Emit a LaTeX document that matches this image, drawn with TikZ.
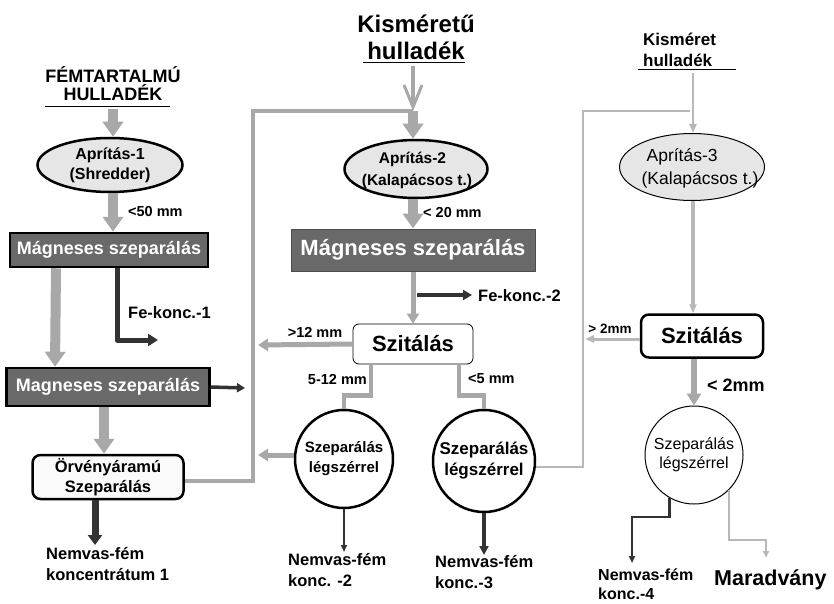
\documentclass[tikz,border=0pt]{standalone}
\usepackage{fontspec}
\setmainfont{Liberation Sans}
\usetikzlibrary{arrows.meta,shapes.geometric,positioning}
\definecolor{szurke}{HTML}{A8A8A8}
\definecolor{vszurke}{HTML}{B8B8B8}
\definecolor{sotet}{HTML}{333333}
\definecolor{doboz}{HTML}{696969}
\definecolor{halvany}{HTML}{E6E6E6}
\newcommand{\betu}[2]{\fontsize{#1pt}{#2pt}\selectfont}
\tikzset{
  vastagnyil/.style={draw=szurke, line width=10pt, -{Triangle[width=20pt,length=15pt]}},
  kozepnyil/.style={draw=szurke, line width=5pt, -{Triangle[width=12pt,length=10pt]}},
  vekonynyil/.style={draw=vszurke, line width=2.5pt, -{Triangle[width=7pt,length=9pt]}},
  vissza/.style={draw=szurke, line width=4.5pt},
  vekonyvissza/.style={draw=vszurke, line width=2pt},
  sotetnyil/.style={draw=sotet, line width=5pt, -{Triangle[width=12pt,length=10pt]}},
  aprito/.style={ellipse, draw, line width=2.5pt, fill=halvany, inner sep=0pt},
  aprszoveg/.style={align=center, inner sep=0pt, font=\bfseries\betu{16}{20}},
  sotetdoboz/.style={draw, line width=2.5pt, fill=doboz, text=white, inner sep=0pt,
    minimum width=198pt, minimum height=34pt, font=\bfseries\betu{18}{20}},
  szitdoboz/.style={draw, rounded corners=6pt, fill=white, inner sep=0pt,
    font=\bfseries\betu{22}{24}},
  legkor/.style={circle, draw, line width=2.5pt, fill=white, inner sep=0pt, align=center},
  felirat/.style={align=left, inner sep=0pt, font=\bfseries\betu{16.5}{21}},
  meret/.style={inner sep=0pt, font=\bfseries\betu{14.5}{16}}
}
\begin{document}
\begin{tikzpicture}[x=1pt, y=-1pt]
\useasboundingbox (0,0) rectangle (834,604);
%%% Bal oszlop
\node[align=center, inner sep=0pt, font=\bfseries\betu{18}{18}] (fem) at (113,84) {FÉMTARTALMÚ\\HULLADÉK};
\draw[line width=1pt] (45,107) -- (170,107);
\node[aprito, minimum width=145pt, minimum height=54pt] (apr1) at (110,165) {};
\node[aprszoveg] at (apr1) {Aprítás-1\\(Shredder)};
\node[sotetdoboz] (mag1) at (109,250) {Mágneses szeparálás};
\node[sotetdoboz, minimum width=203pt, minimum height=38pt] (mag2) at (108,387) {Magneses szeparálás};
\node[draw, line width=2.5pt, rounded corners=8pt, fill=black!2, align=center, inner sep=0pt,
  minimum width=151pt, minimum height=44pt, font=\bfseries\betu{16.5}{20}] (orv) at (108,477) {Örvényáramú\\Szeparálás};
\node[meret, anchor=west] (l50) at (128,212) {<50 mm};
\node[felirat, anchor=west] (fe1) at (128,313) {Fe-konc.-1};
\node[felirat, anchor=west] (nf1) at (46,564) {Nemvas-fém\\koncentrátum 1};
\coordinate (f0) at (113,109);
\coordinate (fe1v) at (158,340);
\coordinate (m2ki) at (245,388);
\coordinate (nf1v) at (95,545);
\coordinate (v1) at (253,111);
\draw[vastagnyil] (f0) -- (f0 |- apr1.north);
\draw[vastagnyil] (apr1.south -| f0) -- (mag1.north -| f0);
\draw[vastagnyil] ([xshift=-53pt]mag1.south) -- ([xshift=-53pt]mag2.north);
\draw[sotetnyil, line join=round] ([xshift=8pt]mag1.south) |- (fe1v);
\draw[draw=sotet, line width=3.5pt, -{Triangle[width=9pt,length=8pt]}] (mag2.east) -- (m2ki);
\draw[vastagnyil] ([xshift=-4pt]mag2.south) -- ([xshift=-4pt]orv.north);
\draw[sotetnyil, line width=7pt, -{Triangle[width=14pt,length=10pt]}] ([xshift=-13pt]orv.south) -- (nf1v);
%%% Kozepso oszlop
\node[align=center, inner sep=0pt, font=\bfseries\betu{24}{27}] (kis) at (416,37) {Kisméretű\\hulladék};
\draw[line width=1pt] (363,63) -- (465,63);
\node[aprito, minimum width=143pt, minimum height=58pt] (apr2) at (416,169) {};
\node[aprszoveg, align=left, font=\bfseries\betu{15.5}{22}] at (417,170) {\hspace*{17pt}Aprítás-2\\(Kalapácsos t.)};
\node[sotetdoboz, line width=1pt, draw=black!70, minimum width=244pt, minimum height=42pt,
  font=\bfseries\betu{22}{24}] (mag3) at (413,250) {Mágneses szeparálás};
\node[szitdoboz, line width=0.8pt, minimum width=120pt, minimum height=40pt] (szit2) at (413,344) {Szitálás};
\node[legkor, minimum size=98pt, font=\bfseries\betu{15}{20}] (c1) at (344,459) {Szeparálás\\légszérrel};
\node[legkor, minimum size=102pt, font=\bfseries\betu{17}{21}] (c2) at (484,461) {Szeparálás\\légszérrel};
\node[meret, anchor=west] (l20) at (423,213) {< 20 mm};
\node[felirat, anchor=west] (fe2) at (478,296) {Fe-konc.-2};
\node[meret] (l12) at (315,332) {>12 mm};
\node[meret, anchor=east] (l512) at (367,380) {5-12 mm};
\node[meret, anchor=west] (l5) at (468,379) {<5 mm};
\node[felirat, anchor=west] (nf2) at (288,570) {Nemvas-fém\\konc. -2};
\node[felirat, anchor=west] (nf3) at (435,572) {Nemvas-fém\\konc.-3};
\coordinate (k2) at (413,66);
\coordinate (j2) at (413,111);
\coordinate (fe2a) at (417,295);
\coordinate (fe2v) at (472,295);
\coordinate (g12) at (258,345);
\coordinate (g512) at (258,455);
\coordinate (nf2v) at (344,552);
\coordinate (nf3v) at (484,555);
\draw[draw=szurke, line width=4pt, -{Straight Barb[width=18pt,length=22pt,line width=3pt]}] (k2) -- (j2);
\draw[vastagnyil] (j2) -- (j2 |- apr2.north);
\draw[vissza] ([yshift=-4pt]orv.east) -| (v1) -- (j2);
\draw[vastagnyil] (apr2.south -| j2) -- (mag3.north -| j2);
\draw[kozepnyil] (mag3.south) -- (szit2.north);
\draw[draw=sotet, line width=4.5pt, -{Triangle[width=10pt,length=9pt]}] (fe2a) -- (fe2v);
\draw[kozepnyil] (szit2.west) -- (g12);
\draw[vissza] ([xshift=-42pt]szit2.south) -- ++(0,31) -| (c1.north);
\draw[vissza] ([xshift=46pt]szit2.south) -- ++(0,31) -| (c2.north);
\draw[kozepnyil] ([yshift=4pt]c1.west) -- (g512);
\draw[draw=sotet, line width=2pt, -{Triangle[width=6pt,length=7pt]}] (c1.south) -- (nf2v);
\draw[draw=sotet, line width=4pt, -{Triangle[width=9pt,length=9pt]}] (c2.south) -- (nf3v);
%%% Jobb oszlop
\node[anchor=west, align=left, inner sep=0pt, font=\bfseries\betu{17}{21}] (kis3) at (643,50) {Kisméret\\hulladék};
\draw[line width=1pt] (638,70) -- (736,70);
\node[aprito, line width=1pt, minimum width=145pt, minimum height=67pt] (apr3) at (692,167) {};
\node[align=left, inner sep=0pt, font=\betu{17.5}{23}] at (700,168) {\hspace*{5pt}Aprítás-3\\(Kalapácsos t.)};
\node[szitdoboz, line width=2.5pt, rounded corners=8pt, minimum width=122pt, minimum height=43pt] (szit3) at (702,336) {Szitálás};
\node[legkor, line width=1pt, minimum size=98pt, font=\betu{16}{19}] (c3) at (694,455) {Szeparálás\\légszérrel};
\node[meret, font=\bfseries\betu{13.5}{15}] (l2a) at (610,329) {> 2mm};
\node[meret, anchor=west, font=\bfseries\betu{18}{20}] (l2b) at (707,385) {< 2mm};
\node[felirat, anchor=west, font=\bfseries\betu{16}{19}] (nf4) at (598,584) {Nemvas-fém\\konc.-4};
\node[anchor=west, inner sep=0pt, font=\bfseries\betu{21.5}{24}] (mar) at (714,580) {Maradvány};
\coordinate (k3) at (693,73);
\coordinate (v2) at (583,111);
\coordinate (j3) at (690,111);
\coordinate (g2) at (585,339);
\coordinate (t4a) at (632,517);
\coordinate (nf4v) at (632,563);
\coordinate (t4b) at (766,540);
\coordinate (marv) at (766,558);
\draw[vekonynyil] (k3) -- (k3 |- apr3.north);
\draw[vekonyvissza] (c2.-7) -| (v2) -- (j3);
\draw[vekonynyil, line width=4pt] (apr3.south -| k3) -- (szit3.north -| k3);
\draw[vekonynyil, line width=3pt] ([yshift=-3pt]szit3.west) -- (g2);
\draw[kozepnyil, line width=6pt, -{Triangle[width=14pt,length=12pt]}] (szit3.south -| c3.north) -- (c3.north);
\draw[draw=sotet, line width=2.5pt, -{Triangle[width=6pt,length=7pt]}] (c3.-120) |- (t4a) -- (nf4v);
\draw[vekonyvissza, -{Triangle[width=6pt,length=7pt]}] (c3.-45) |- (t4b) -- (marv);
\end{tikzpicture}
\end{document}
